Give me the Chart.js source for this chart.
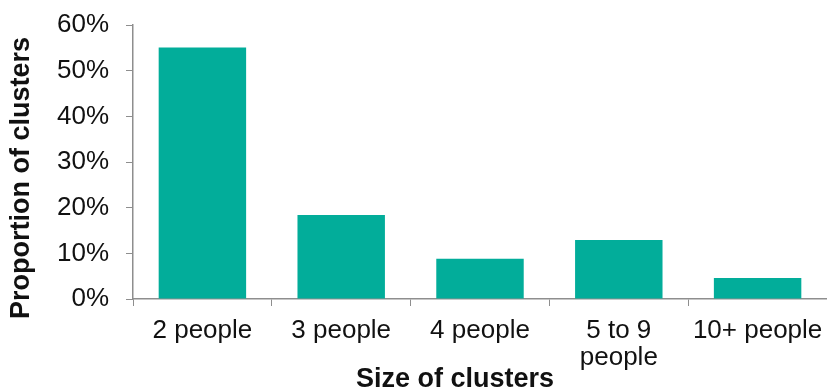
<!DOCTYPE html>
<html lang="en">
  <head>
    <meta charset="UTF-8" />
    <title>Size of clusters</title>
    <script src="https://cdn.jsdelivr.net/npm/chart.js"></script>
    <style>
      html, body { margin: 0; padding: 0; background: #ffffff; }
      .chart-box { width: 827px; height: 392px; }
    </style>
  </head>
  <body>
    <div class="chart-box">
      <canvas id="clusterChart"></canvas>
    </div>

    <script>
      // categories and values (proportion of clusters, %)
      const sizes = ["2 people", "3 people", "4 people", ["5 to 9", "people"], "10+ people"];
      const proportions = [55.1, 18.4, 8.8, 12.9, 4.6];
      const yTicks = [0, 10, 20, 30, 40, 50, 60];
      const xTitle = "Size of clusters";
      const yTitle = "Proportion of clusters";

      const axisGrey = "#8e8e8e";
      const fontFamily = "'Liberation Sans', Arial, sans-serif";

      // axis titles sit a bit off-centre in the original, so draw them by hand
      const axisTitles = {
        id: "axisTitles",
        afterDraw(chart) {
          const c = chart.ctx;
          c.save();
          c.fillStyle = "#111";
          c.font = "bold 27px " + fontFamily;
          c.textAlign = "center";
          c.textBaseline = "middle";
          c.fillText(xTitle, 455, 380);
          c.translate(22, 178);
          c.rotate(-Math.PI / 2);
          c.fillText(yTitle, 0, 0);
          c.restore();
        },
      };

      const ctx = document.getElementById("clusterChart").getContext("2d");
      new Chart(ctx, {
        type: "bar",
        data: {
          labels: sizes,
          datasets: [
            {
              label: yTitle,
              data: proportions,
              backgroundColor: "#02ad9a",
              barPercentage: 1,
              categoryPercentage: 0.63,
            },
          ],
        },
        plugins: [axisTitles],
        options: {
          responsive: true,
          maintainAspectRatio: false,
          animation: false,
          layout: { padding: { top: 25, right: 0, bottom: 0, left: 0 } },
          plugins: {
            legend: { display: false },
            tooltip: { enabled: false },
          },
          scales: {
            x: {
              afterFit: (scale) => {
                scale.height = 93;
                scale.paddingLeft = 0;
                scale.paddingRight = 0;
              },
              grid: {
                display: true,
                offset: true,
                drawOnChartArea: false,
                drawTicks: true,
                tickLength: 7,
                color: axisGrey,
              },
              border: { color: axisGrey, width: 1.5 },
              ticks: {
                color: "#111",
                font: { family: fontFamily, size: 26, lineHeight: 1.05 },
                padding: 11,
                maxRotation: 0,
                autoSkip: false,
              },
            },
            y: {
              min: 0,
              max: 60,
              afterBuildTicks: (scale) => {
                scale.ticks = yTicks.map((v) => ({ value: v }));
              },
              afterFit: (scale) => {
                scale.width = 133;
                scale.paddingTop = 0;
                scale.paddingBottom = 0;
              },
              grid: {
                display: true,
                drawOnChartArea: false,
                drawTicks: true,
                tickLength: 7,
                color: axisGrey,
              },
              border: { color: axisGrey, width: 1.5 },
              ticks: {
                color: "#111",
                font: { family: fontFamily, size: 26 },
                padding: 17,
                callback: (v) => v + "%",
              },
            },
          },
        },
      });
    </script>
  </body>
</html>
